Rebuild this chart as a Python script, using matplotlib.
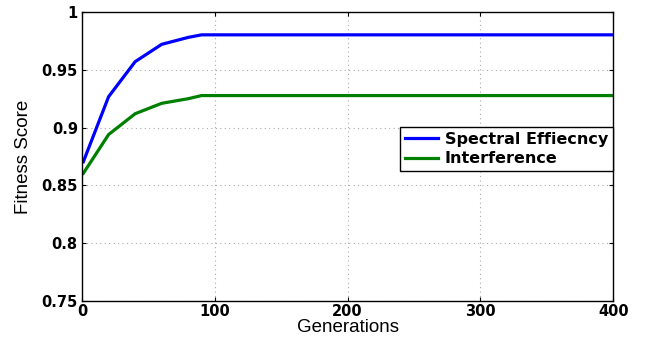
import matplotlib
matplotlib.use("Agg")
from matplotlib import pyplot as plt

generations = [1, 20, 40, 60, 80, 90, 400]
spectral = [0.8705, 0.9267, 0.957, 0.972, 0.978, 0.9802, 0.9802]
interference = [0.8605, 0.894, 0.912, 0.921, 0.925, 0.9277, 0.9277]

xticks = [0, 100, 200, 300, 400]
yticks = [0.75, 0.8, 0.85, 0.9, 0.95, 1.0]
yticklabels = ["0.75", "0.8", "0.85", "0.9", "0.95", "1"]

plt.rcParams['font.family'] = ['Liberation Sans', 'DejaVu Sans']

fig = plt.figure(figsize=(6.51, 3.41), dpi=100)
ax = fig.add_axes([0.126, 0.117, 0.816, 0.848])

ax.plot(generations, spectral, color='#0000ff', lw=2.3, label='Spectral Effiecncy')
ax.plot(generations, interference, color='#008000', lw=2.3, label='Interference')

ax.set_xlim(0, 400)
ax.set_ylim(0.75, 1.0)
ax.set_xticks(xticks)
ax.set_yticks(yticks)
ax.set_yticklabels(yticklabels)
for lab in ax.get_xticklabels() + ax.get_yticklabels():
    lab.set_fontweight('bold')
    lab.set_fontsize(10.5)
    lab.set_family('DejaVu Sans')
ax.tick_params(direction='in', length=3, top=True, right=True, pad=3)
ax.tick_params(axis='x', pad=2)
ax.grid(True, linestyle=(0, (1, 3)), color='#aaaaaa', lw=0.8)
for s in ax.spines.values():
    s.set_linewidth(1.0)

ax.set_xlabel('Generations', fontsize=13.5, labelpad=0)
ax.set_ylabel('Fitness Score', fontsize=13.5, labelpad=7)

leg = ax.legend(loc='center right', bbox_to_anchor=(0.999, 0.526), fancybox=False,
                edgecolor='black', framealpha=1,
                prop={'weight': 'bold', 'size': 11.5, 'family': 'DejaVu Sans'},
                handlelength=2.1, handletextpad=0.4, borderpad=0.3, labelspacing=0.3,
                borderaxespad=0)
leg.get_frame().set_linewidth(1.0)

fig.savefig('out.png', dpi=100)
